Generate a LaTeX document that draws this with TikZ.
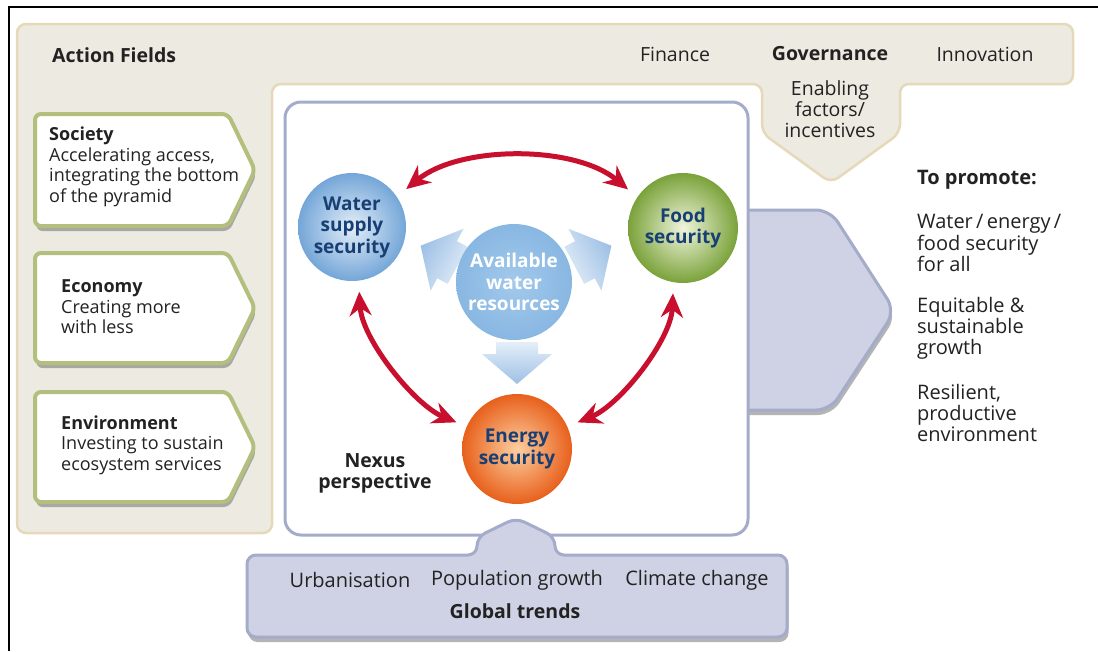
\documentclass[tikz,border=0pt]{standalone}
\usepackage{fontspec}
\setmainfont{Open Sans}
\usetikzlibrary{arrows.meta,shadows}
\definecolor{beigefill}{HTML}{EDEAE2}
\definecolor{beigeline}{HTML}{E6D9B9}
\definecolor{nexusline}{HTML}{A5ACCA}
\definecolor{trendfill}{HTML}{CED2E4}
\definecolor{greenline}{HTML}{B3BF7D}
\definecolor{redarr}{HTML}{C8102E}
\definecolor{navy}{HTML}{173F73}
\definecolor{txt}{HTML}{222222}
\definecolor{paleblue}{HTML}{E4EEF8}
\definecolor{midblue}{HTML}{9DC0E5}
\definecolor{waterout}{HTML}{74A6D8}
\definecolor{foodin}{HTML}{F0F5DC}
\definecolor{foodout}{HTML}{7AA23A}
\definecolor{availin}{HTML}{A3C9EC}
\definecolor{availout}{HTML}{88B7E2}
\definecolor{energyin}{HTML}{FCCFA0}
\definecolor{energyout}{HTML}{E8601C}
\tikzset{
  base/.style={font=\fontsize{19.5}{21}\selectfont, text=txt, inner sep=0pt},
  hd/.style={base, font=\bfseries\fontsize{19.5}{21}\selectfont},
  blk/.style={base, anchor=west, align=left},
  small/.style={font=\fontsize{18}{20.5}\selectfont},
  big/.style={font=\fontsize{20}{21.2}\selectfont},
  shad/.style={drop shadow={shadow xshift=1.5pt, shadow yshift=-5pt, opacity=0.45, fill=black!65}},
  greenbox/.style={draw=greenline, line width=4pt, fill=white, rounded corners=6pt, shad},
  trendbox/.style={draw=nexusline, line width=3pt, fill=trendfill, rounded corners=9pt, shad},
  circ/.style={circle, inner sep=0pt, align=center, text=navy, font=\bfseries\fontsize{19}{21.5}\selectfont},
  redarrow/.style={draw=redarr, line width=5pt, {Stealth[length=24pt,width=22pt]}-{Stealth[length=24pt,width=22pt]}},
  fatarrow/.style={top color=paleblue, bottom color=midblue}
}
\begin{document}
\begin{tikzpicture}[x=1pt,y=-1pt]
\useasboundingbox (0,0) rectangle (1098,651);
\fill[white] (0,0) rectangle (1098,651);
% outer frame (top and left only)
\draw[black, line width=2pt] (9,651) -- (9,7) -- (1098,7);
% beige action-field frame
\draw[draw=beigeline, line width=2.5pt, fill=beigefill, rounded corners=9pt]
  (17,24) -- (1073,24) -- (1073,84) -- (900,84) -- (900,133) -- (831,183)
  -- (762,133) -- (762,84) -- (272,84) -- (272,533) -- (17,533) -- cycle;
% green action boxes
\draw[greenbox] (35,114) -- (228,114) -- (255,170) -- (228,226) -- (35,226) -- cycle;
\draw[greenbox] (35,253) -- (228,253) -- (255,308) -- (228,363) -- (35,363) -- cycle;
\draw[greenbox] (35,392) -- (228,392) -- (255,447) -- (228,502) -- (35,502) -- cycle;
% big outcome arrow
\draw[trendbox, rounded corners=14pt] (700,210) -- (830,210) -- (895,311) -- (830,410) -- (700,410) -- cycle;
% nexus box
\draw[draw=nexusline, line width=3pt, fill=white, rounded corners=16pt] (285,102) rectangle (748,535);
% global trends box
\draw[trendbox] (247,555) -- (477,555) -- (477,537) -- (516,518) -- (555,537) -- (555,555)
  -- (787,555) -- (787,637) -- (247,637) -- cycle;
% texts of top bar
\node[hd, anchor=west] (af) at (52,55) {Action Fields};
\node[base] (fin) at (675,54) {Finance};
\node[hd] (gov) at (830,54) {Governance};
\node[base] (inn) at (985,54) {Innovation};
\node[base, align=center] (enab) at (830,109) {Enabling\\factors/\\incentives};
% left boxes text
\node[blk, small] (soc) at (49,167) {\textbf{Society}\\Accelerating access,\\integrating the bottom\\of the pyramid};
\node[blk, small] (eco) at (61,307) {\textbf{Economy}\\Creating more\\with less};
\node[blk, small] (env) at (61,445) {\textbf{Environment}\\Investing to sustain\\ecosystem services};
% right text
\node[hd, anchor=west, big] (promo) at (917,180) {\bfseries To promote:};
\node[blk, big] (p1) at (917,243) {Water\,/\,energy\,/\\food security\\for all};
\node[blk, big] (p2) at (917,328) {Equitable \&\\sustainable\\growth};
\node[blk, big] (p3) at (917,413) {Resilient,\\productive\\environment};
% global trends texts
\node[base, big] (urb) at (350,580) {Urbanisation};
\node[base, big] (pop) at (517,580) {Population growth};
\node[base, big] (cli) at (697,580) {Climate change};
\node[hd] (gt) at (515,611) {Global trends};
% nexus label
\node[hd, align=center] (nexus) at (375,473) {Nexus\\perspective};
% fat light-blue arrows (absolute coordinates, pale at base, blue at tip)
\shade[fatarrow, shading angle=0] (538,342) -- (538,354) -- (552,354) -- (517,384) -- (482,354) -- (496,354) -- (496,342) -- cycle;
\shade[fatarrow, shading angle=242] (447.8,283.9) -- (437.2,278.3) -- (430.6,290.7) -- (420.6,245.7) -- (463.5,228.8) -- (456.9,241.2) -- (467.5,246.8) -- cycle;
\shade[fatarrow, shading angle=118] (564.5,246.8) -- (575.1,241.2) -- (568.5,228.8) -- (611.4,245.7) -- (601.4,290.7) -- (594.8,278.3) -- (584.2,283.9) -- cycle;
% circles
\node[circ, minimum size=108pt, inner color=paleblue, outer color=waterout] (water) at (352,227) {Water\\supply\\security};
\node[circ, minimum size=110pt, inner color=foodin, outer color=foodout] (food) at (683,228) {Food\\security};
\node[circ, minimum size=116pt, inner color=availin, outer color=availout, text=white] (avail) at (514,282) {Available\\water\\resources};
\node[circ, minimum size=110pt, inner color=energyin, outer color=energyout] (energy) at (517,449) {Energy\\security};
% red interaction arrows
\draw[redarrow, shorten <=12pt, shorten >=12pt] (water.34) .. controls (460,145) and (575,145) .. (food.146);
\draw[redarrow, shorten <=11pt, shorten >=11pt] (water.277) .. controls (362,340) and (415,405) .. (energy.156);
\draw[redarrow, shorten <=11pt, shorten >=11pt] (food.260) .. controls (671,340) and (620,405) .. (energy.24);
\end{tikzpicture}
\end{document}
